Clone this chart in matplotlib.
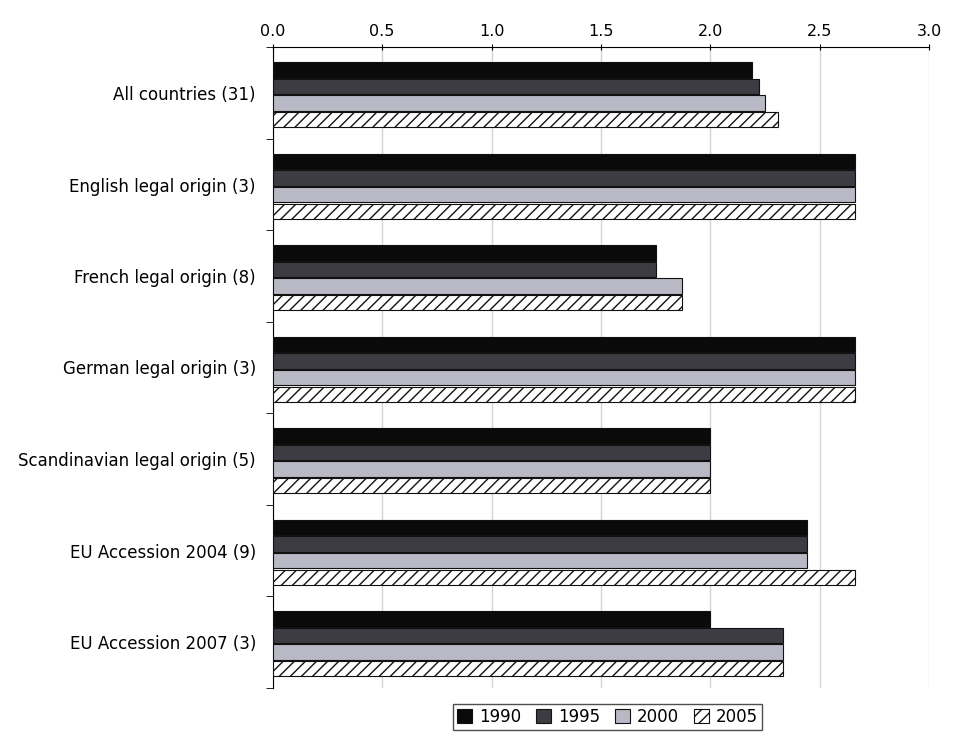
import numpy as np
import matplotlib
matplotlib.use('Agg')
import matplotlib.pyplot as plt

categories = ['All countries (31)', 'English legal origin (3)', 'French legal origin (8)',
              'German legal origin (3)', 'Scandinavian legal origin (5)',
              'EU Accession 2004 (9)', 'EU Accession 2007 (3)']
years = ['1990', '1995', '2000', '2005']
v1990 = [2.19, 2.66, 1.75, 2.66, 2.00, 2.44, 2.00]
v1995 = [2.22, 2.66, 1.75, 2.66, 2.00, 2.44, 2.33]
v2000 = [2.25, 2.66, 1.87, 2.66, 2.00, 2.44, 2.33]
v2005 = [2.31, 2.66, 1.87, 2.66, 2.00, 2.66, 2.33]
xticks = [0.0, 0.5, 1.0, 1.5, 2.0, 2.5, 3.0]

series = [v1990, v1995, v2000, v2005]
faces = ['#0a0a0a', '#3c3c42', '#b9b9c6', 'white']
hatches = [None, None, None, '///']

plt.rcParams['hatch.linewidth'] = 1.0
fig = plt.figure(figsize=(9.6, 7.5), dpi=100)
ax = fig.add_axes([0.284, 0.083, 0.684, 0.854])

n = len(categories)
pos = np.arange(n)
h = 0.182
for i, vals in enumerate(series):
    ax.barh(pos - 1.5 * h + i * h + 0.02, vals, height=h * 0.92, color=faces[i],
            edgecolor='#111111', linewidth=0.8, hatch=hatches[i], label=years[i], zorder=3)

ax.set_ylim(n - 0.5, -0.5)
ax.set_xlim(0, 3.0)
ax.set_xticks(xticks)
ax.set_xticklabels(['%.1f' % t for t in xticks])
ax.xaxis.tick_top()
ax.tick_params(axis='x', length=4, labelsize=11.5, pad=4, direction='inout')
ax.set_yticks(pos)
ax.set_yticklabels(categories, fontsize=12)
ax.set_yticks(np.arange(n + 1) - 0.5, minor=True)
ax.tick_params(axis='y', which='major', length=0, pad=12)
ax.tick_params(axis='y', which='minor', length=5)
ax.grid(axis='x', color='#d4d4d4', linewidth=1, zorder=0)
for s in ['right', 'bottom']:
    ax.spines[s].set_visible(False)

leg = ax.legend(loc='upper center', bbox_to_anchor=(0.51, -0.012), ncol=4, fontsize=12,
                frameon=True, fancybox=False, edgecolor='#222222', handlelength=0.9,
                handleheight=0.9, columnspacing=0.9, handletextpad=0.4, borderpad=0.25)
leg.get_frame().set_linewidth(1.0)

plt.savefig('out.png', dpi=100)
